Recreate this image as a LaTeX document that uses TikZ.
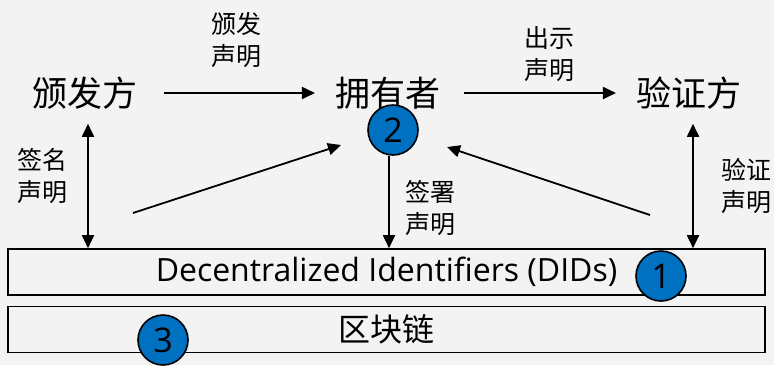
\documentclass[tikz,border=0pt]{standalone}
\usepackage{fontspec}
\setmainfont{Open Sans}
\newfontfamily\cjk{Noto Sans CJK SC}
\usetikzlibrary{arrows.meta}
\definecolor{numblue}{HTML}{0070C0}
\definecolor{bggray}{HTML}{F3F3F3}
\begin{document}
\begin{tikzpicture}[x=1pt,y=-1pt,
  role/.style={font=\cjk\fontsize{35}{35}\selectfont},
  lbl/.style={font=\cjk\fontsize{25}{32}\selectfont,align=center},
  layer/.style={draw,line width=1.6pt,minimum width=757pt,minimum height=46pt,inner sep=0pt,font=\fontsize{32}{32}\selectfont},
  num/.style={circle,draw,line width=1.6pt,fill=numblue,minimum size=50pt,inner sep=0pt,font=\fontsize{34}{34}\selectfont},
  arr/.style={line width=1.8pt,-{Triangle[length=13pt,width=12pt]}},
  darr/.style={line width=1.8pt,{Triangle[length=13pt,width=12pt]}-{Triangle[length=13pt,width=12pt]}}]
	\fill[bggray] (0,0) rectangle (774,365);
	\useasboundingbox (0,0) rectangle (774,365);
	\node[role] (issuer) at (85,93) {颁发方};
	\node[role] (holder) at (388,93) {拥有者};
	\node[role] (verifier) at (689,93) {验证方};
	\node[layer] (did) at (386.5,272) {Decentralized Identifiers (DIDs)};
	\node[layer] (chain) at (386.5,329.5) {\cjk 区块链};
	\node[lbl] (issue) at (236,40) {颁发\\声明};
	\node[lbl] (show) at (549,54) {出示\\声明};
	\node[lbl] (signname) at (42,176) {签名\\声明};
	\node[lbl] (sign) at (430,208) {签署\\声明};
	\node[lbl] (check) at (746,186) {验证\\声明};
	\coordinate (a1) at (133,213);
	\coordinate (a2) at (650,215);
	\coordinate (h1) at (341,145);
	\coordinate (h2) at (447,147);
	\draw[arr,shorten <=23pt,shorten >=17pt] (issuer) -- (holder);
	\draw[arr,shorten <=20pt,shorten >=17pt] (holder) -- (verifier);
	\draw[darr,shorten <=11pt] ([xshift=3pt]issuer.south) -- ([xshift=3pt]issuer.south |- did.north);
	\draw[darr,shorten <=11pt] ([xshift=4pt]verifier.south) -- ([xshift=4pt]verifier.south |- did.north);
	\draw[arr] (a1) -- (h1);
	\draw[arr] (a2) -- (h2);
	\node[num] (n2) at (393,130) {2};
	\node[num] (n1) at (661,276) {1};
	\node[num] (n3) at (163,340) {3};
	\draw[arr] ([xshift=-4pt]n2.south) -- ([xshift=-4pt]n2.south |- did.north);
\end{tikzpicture}
\end{document}
